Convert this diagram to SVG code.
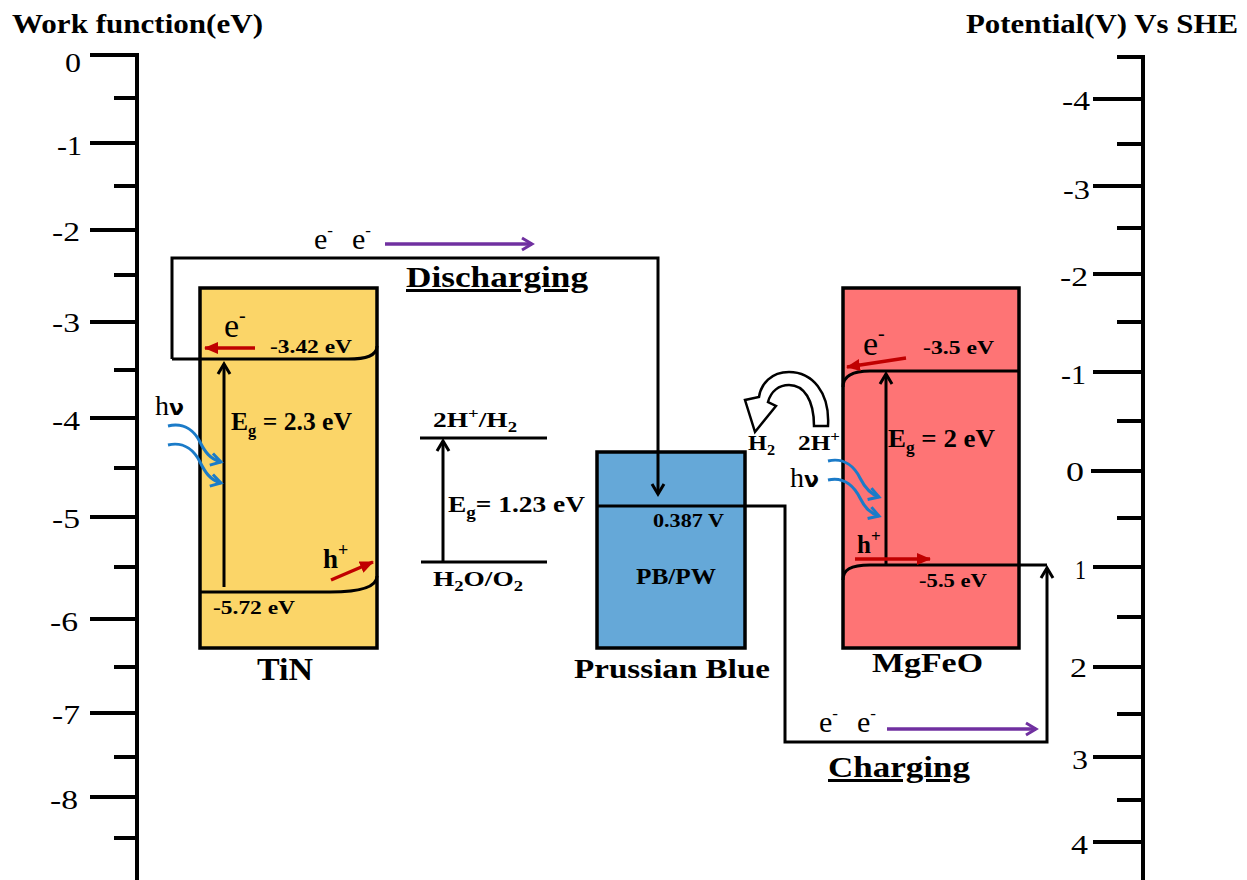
<svg xmlns="http://www.w3.org/2000/svg" width="1247" height="880" viewBox="0 0 1247 880">
<style>
text{font-family:"Liberation Serif","Times New Roman",serif;fill:#000}
.b{font-weight:bold}
.ax{stroke:#000;stroke-width:4;fill:none}
.ln{stroke:#000;stroke-width:3;fill:none}
.box{stroke:#000;stroke-width:3.5}
.num{font-size:28px;text-anchor:end}
.red{stroke:#C00000;stroke-width:3.5;fill:none}
.blue{stroke:#1B7BC8;stroke-width:3;fill:none}
.pur{stroke:#7030A0;stroke-width:3.5;fill:none}
</style>
<defs>
<marker id="ah" viewBox="0 0 12 14" refX="11" refY="7" markerWidth="12" markerHeight="14" orient="auto" markerUnits="userSpaceOnUse" style="overflow:visible"><path d="M1,1 L11,7 L1,13" fill="none" stroke="#000" stroke-width="3"/></marker>
<marker id="ap" viewBox="0 0 12 14" refX="11" refY="7" markerWidth="12" markerHeight="14" orient="auto" markerUnits="userSpaceOnUse" style="overflow:visible"><path d="M1,1 L11,7 L1,13" fill="none" stroke="#7030A0" stroke-width="3"/></marker>
<marker id="ar" viewBox="0 0 14 12" refX="13" refY="6" markerWidth="14" markerHeight="12" orient="auto" markerUnits="userSpaceOnUse"><path d="M0,0 L14,6 L0,12 Z" fill="#C00000"/></marker>
<marker id="ab" viewBox="0 0 12 14" refX="11" refY="7" markerWidth="12" markerHeight="14" orient="auto" markerUnits="userSpaceOnUse" style="overflow:visible"><path d="M1,1 L11,7 L1,13" fill="none" stroke="#1B7BC8" stroke-width="3"/></marker>
</defs>
<rect width="1247" height="880" fill="#fff"/>

<g id="left-axis">
<text class="b" x="12" y="33" font-size="27" textLength="251" lengthAdjust="spacingAndGlyphs">Work function(eV)</text>
<path class="ax" d="M137,53 V880"/>
<path class="ax" d="M90,55 H139 M90,143 H139 M90,230 H139 M90,322 H139 M90,418 H139 M90,517 H139 M90,619 H139 M90,713 H139 M90,797 H139"/>
<path class="ax" d="M114,98 H139 M114,186 H139 M114,275 H139 M114,370 H139 M114,468 H139 M114,567 H139 M114,667 H139 M114,757 H139 M114,838 H139"/>
<text class="num" x="81" y="72" textLength="16" lengthAdjust="spacingAndGlyphs">0</text>
<text class="num" x="82" y="155" textLength="25" lengthAdjust="spacingAndGlyphs">-1</text>
<text class="num" x="80" y="241" textLength="28" lengthAdjust="spacingAndGlyphs">-2</text>
<text class="num" x="80" y="332" textLength="28" lengthAdjust="spacingAndGlyphs">-3</text>
<text class="num" x="80" y="430" textLength="28" lengthAdjust="spacingAndGlyphs">-4</text>
<text class="num" x="80" y="528" textLength="28" lengthAdjust="spacingAndGlyphs">-5</text>
<text class="num" x="78" y="631" textLength="28" lengthAdjust="spacingAndGlyphs">-6</text>
<text class="num" x="80" y="724" textLength="28" lengthAdjust="spacingAndGlyphs">-7</text>
<text class="num" x="78" y="809" textLength="28" lengthAdjust="spacingAndGlyphs">-8</text>
</g>

<g id="right-axis">
<text class="b" x="966" y="33" font-size="27" textLength="272" lengthAdjust="spacingAndGlyphs">Potential(V) Vs SHE</text>
<path class="ax" d="M1143,55 V880"/>
<path class="ax" d="M1117,57 H1145 M1117,144 H1145 M1117,228 H1145 M1117,322 H1145 M1117,421 H1145 M1117,518 H1145 M1117,617 H1145 M1117,714 H1145 M1117,800 H1145"/>
<path class="ax" d="M1093,99 H1145 M1093,186 H1145 M1093,274 H1145 M1093,372 H1145 M1091,471 H1145 M1093,567 H1145 M1093,667 H1145 M1093,757 H1145 M1093,842 H1145"/>
<text class="num" x="1090" y="110" textLength="28" lengthAdjust="spacingAndGlyphs">-4</text>
<text class="num" x="1090" y="199" textLength="27" lengthAdjust="spacingAndGlyphs">-3</text>
<text class="num" x="1088" y="286" textLength="28" lengthAdjust="spacingAndGlyphs">-2</text>
<text class="num" x="1086" y="384" textLength="25" lengthAdjust="spacingAndGlyphs">-1</text>
<text class="num" x="1084" y="481" textLength="18" lengthAdjust="spacingAndGlyphs">0</text>
<text class="num" x="1086" y="579" textLength="11" lengthAdjust="spacingAndGlyphs">1</text>
<text class="num" x="1087" y="677" textLength="17" lengthAdjust="spacingAndGlyphs">2</text>
<text class="num" x="1088" y="769" textLength="16" lengthAdjust="spacingAndGlyphs">3</text>
<text class="num" x="1088" y="854" textLength="17" lengthAdjust="spacingAndGlyphs">4</text>
</g>

<g id="TiN">
<rect class="box" x="200" y="288" width="177" height="360" fill="#FBD568"/>
<path class="ln" d="M172,359 L348,359 C366,359 377,356 377,346"/>
<path class="ln" d="M200,592 L330,592 C360,592 377,587 377,576"/>
<path class="ln" d="M224,587 V364" marker-end="url(#ah)"/>
<path class="red" d="M255,348 H205" marker-end="url(#ar)"/>
<text x="224" y="337" font-size="34">e<tspan font-size="20" dy="-15">-</tspan></text>
<text class="b" x="270" y="353" font-size="19" textLength="82" lengthAdjust="spacingAndGlyphs">-3.42 eV</text>
<text class="b" x="231" y="430" font-size="25" textLength="121" lengthAdjust="spacingAndGlyphs">E<tspan font-size="16" dy="6">g</tspan><tspan dy="-6"> = 2.3 eV</tspan></text>
<text x="155" y="415" font-size="28">h<tspan font-family="DejaVu Sans,sans-serif" font-weight="bold" font-size="22">ν</tspan></text>
<path class="blue" d="M168,426 C185,422 195,432 200,442 S210,459 221,462" marker-end="url(#ab)"/>
<path class="blue" d="M168,445 C185,441 195,452 200,462 S210,480 221,483" marker-end="url(#ab)"/>
<text class="b" x="323" y="568" font-size="27">h<tspan font-size="18" dy="-12">+</tspan></text>
<path class="red" d="M331,580 L373,562" marker-end="url(#ar)"/>
<text class="b" x="213" y="614" font-size="19" textLength="82" lengthAdjust="spacingAndGlyphs">-5.72 eV</text>
<text class="b" x="257" y="680" font-size="31" textLength="56" lengthAdjust="spacingAndGlyphs">TiN</text>
</g>

<g id="water-redox">
<path class="ln" d="M420,438 H547 M421,562 H547"/>
<path class="ln" d="M443,561 V441" marker-end="url(#ah)"/>
<text class="b" x="433" y="427" font-size="22" textLength="84" lengthAdjust="spacingAndGlyphs">2H<tspan font-size="15" dy="-9">+</tspan><tspan dy="9">/H</tspan><tspan font-size="15" dy="5">2</tspan></text>
<text class="b" x="448" y="512" font-size="23" textLength="137" lengthAdjust="spacingAndGlyphs">E<tspan font-size="16" dy="6">g</tspan><tspan dy="-6">= 1.23 eV</tspan></text>
<text class="b" x="433" y="586" font-size="22" textLength="90" lengthAdjust="spacingAndGlyphs">H<tspan font-size="15" dy="5">2</tspan><tspan dy="-5">O/O</tspan><tspan font-size="15" dy="5">2</tspan></text>
</g>

<g id="PrussianBlue">
<rect class="box" x="597" y="452" width="148" height="196" fill="#65A8D8"/>
<path class="ln" d="M597,506 H745"/>
<text class="b" x="653" y="527" font-size="19" textLength="71" lengthAdjust="spacingAndGlyphs">0.387 V</text>
<text class="b" x="636" y="584" font-size="23" textLength="80" lengthAdjust="spacingAndGlyphs">PB/PW</text>
<text class="b" x="574" y="678" font-size="28" textLength="196" lengthAdjust="spacingAndGlyphs">Prussian Blue</text>
</g>

<g id="MgFeO">
<rect class="box" x="843" y="288" width="176" height="360" fill="#FE7475"/>
<path class="ln" d="M843,387 C843,377 850,371 870,371 L1019,371"/>
<path class="ln" d="M843,580 C843,570 850,565 870,565 L1047,565"/>
<path class="ln" d="M886,564 V374" marker-end="url(#ah)"/>
<path class="red" d="M906,358 L847,367" marker-end="url(#ar)"/>
<text x="863" y="355" font-size="34">e<tspan font-size="20" dy="-15">-</tspan></text>
<text class="b" x="923" y="354" font-size="19" textLength="71" lengthAdjust="spacingAndGlyphs">-3.5 eV</text>
<text class="b" x="888" y="447" font-size="25" textLength="107" lengthAdjust="spacingAndGlyphs">E<tspan font-size="16" dy="6">g</tspan><tspan dy="-6"> = 2 eV</tspan></text>
<text class="b" x="857" y="553" font-size="25">h<tspan font-size="17" dy="-11">+</tspan></text>
<path class="red" d="M855,559 H930" marker-end="url(#ar)"/>
<text class="b" x="919" y="587" font-size="19" textLength="68" lengthAdjust="spacingAndGlyphs">-5.5 eV</text>
<text class="b" x="872" y="672" font-size="28" textLength="111" lengthAdjust="spacingAndGlyphs">MgFeO</text>
</g>

<g id="H2-evolution">
<path d="M814,426 L828,426 C830,392 812,372 789,372 C771,372 761,384 759,397 L745,400 L755,432 L776,406 L768,402 C771,391 779,385 789,385 C804,385 814,400 814,426 Z" fill="#fff" stroke="#000" stroke-width="2.5" stroke-linejoin="miter"/>
<text class="b" x="748" y="450" font-size="21" textLength="27" lengthAdjust="spacingAndGlyphs">H<tspan font-size="14" dy="5">2</tspan></text>
<text class="b" x="798" y="450" font-size="21" textLength="42" lengthAdjust="spacingAndGlyphs">2H<tspan font-size="14" dy="-9">+</tspan></text>
<text x="790" y="487" font-size="28">h<tspan font-family="DejaVu Sans,sans-serif" font-weight="bold" font-size="22">ν</tspan></text>
<path class="blue" d="M828,461 C845,457 855,468 860,478 S870,494 879,497" marker-end="url(#ab)"/>
<path class="blue" d="M828,480 C845,476 855,488 860,498 S870,513 879,516" marker-end="url(#ab)"/>
</g>

<g id="connectors">
<path class="ln" d="M172,359 V258 H658 V494" marker-end="url(#ah)"/>
<path class="ln" d="M745,506 H785 V742 H1047 V568" marker-end="url(#ah)"/>
<text x="314" y="249" font-size="30">e<tspan font-size="17" dy="-13">-</tspan></text>
<text x="352" y="249" font-size="30">e<tspan font-size="17" dy="-13">-</tspan></text>
<path class="pur" d="M385,244 H532" marker-end="url(#ap)"/>
<text class="b" x="406" y="287" font-size="30" textLength="182" lengthAdjust="spacingAndGlyphs" text-decoration="underline">Discharging</text>
<text x="819" y="732" font-size="30">e<tspan font-size="17" dy="-13">-</tspan></text>
<text x="857" y="732" font-size="30">e<tspan font-size="17" dy="-13">-</tspan></text>
<path class="pur" d="M887,729 H1036" marker-end="url(#ap)"/>
<text class="b" x="828" y="777" font-size="30" textLength="142" lengthAdjust="spacingAndGlyphs" text-decoration="underline">Charging</text>
</g>
</svg>
